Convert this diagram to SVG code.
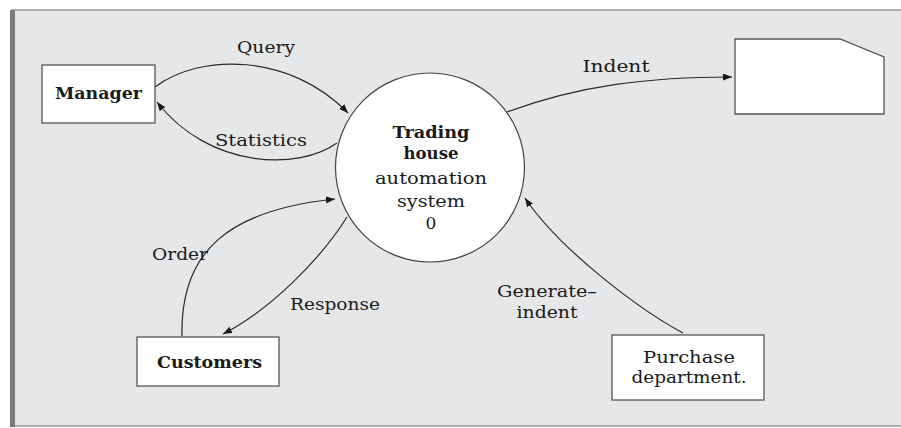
<svg xmlns="http://www.w3.org/2000/svg" width="901" height="428" viewBox="0 0 901 428">
<style>
.box{fill:#fff;stroke:#555;stroke-width:1.3}
.flow{fill:none;stroke:#2a2a2a;stroke-width:1.2;marker-end:url(#ah)}
text{font-family:"DejaVu Serif","Liberation Serif",serif;font-size:17px;fill:#1a1a1a;text-anchor:middle}
.b{font-weight:bold}
</style>
<defs>
<marker id="ah" markerUnits="userSpaceOnUse" markerWidth="10" markerHeight="8" refX="9" refY="3.5" orient="auto">
<path d="M0,0 L9,3.5 L0,7 z" fill="#1a1a1a"/>
</marker>
</defs>
<rect x="0" y="0" width="901" height="428" fill="#fff"/>
<rect x="12" y="10" width="895" height="416" fill="#e6e7e8" stroke="#9a9a9a" stroke-width="1.5"/>
<rect x="10" y="10" width="5" height="417" fill="#7a7a7a"/>
<g id="connectors">
<path class="flow" d="M155,87 C200,53 290,53 348,113"/>
<path class="flow" d="M337,143 C300,170 210,170 157,102"/>
<path class="flow" d="M507,112 C580,85 650,77 732,77"/>
<path class="flow" d="M182,336 C180,250 230,210 335,199"/>
<path class="flow" d="M347,217 C320,260 270,310 223,334"/>
<path class="flow" d="M683,333 C640,310 560,250 525,198"/>
<text x="266" y="53" textLength="58" lengthAdjust="spacingAndGlyphs">Query</text>
<text x="261" y="146" textLength="92" lengthAdjust="spacingAndGlyphs">Statistics</text>
<text x="616" y="72" textLength="67" lengthAdjust="spacingAndGlyphs">Indent</text>
<text x="180" y="260" textLength="56" lengthAdjust="spacingAndGlyphs">Order</text>
<text x="335" y="310" textLength="90" lengthAdjust="spacingAndGlyphs">Response</text>
<text x="547" y="297" textLength="100" lengthAdjust="spacingAndGlyphs">Generate–</text>
<text x="547" y="318" textLength="61" lengthAdjust="spacingAndGlyphs">indent</text>
</g>
<g id="manager">
<rect class="box" x="42" y="65" width="113" height="58"/>
<text class="b" x="98.5" y="99" textLength="87" lengthAdjust="spacingAndGlyphs">Manager</text>
</g>
<g id="process">
<circle cx="430" cy="167.5" r="94.5" fill="#fff" stroke="#444" stroke-width="1.2"/>
<text class="b" x="431" y="138" textLength="77" lengthAdjust="spacingAndGlyphs">Trading</text>
<text class="b" x="431" y="159" textLength="55" lengthAdjust="spacingAndGlyphs">house</text>
<text x="431" y="184" textLength="112" lengthAdjust="spacingAndGlyphs">automation</text>
<text x="431" y="207" textLength="68" lengthAdjust="spacingAndGlyphs">system</text>
<text x="431" y="229">0</text>
</g>
<g id="datastore">
<polygon class="box" points="735,39 840,39 884,57 884,114 735,114"/>
</g>
<g id="customers">
<rect class="box" x="137" y="337" width="142" height="49"/>
<text class="b" x="209.5" y="368" textLength="105" lengthAdjust="spacingAndGlyphs">Customers</text>
</g>
<g id="purchase">
<rect class="box" x="612" y="335" width="152" height="65"/>
<text x="689" y="363" textLength="92" lengthAdjust="spacingAndGlyphs">Purchase</text>
<text x="689" y="383" textLength="115" lengthAdjust="spacingAndGlyphs">department.</text>
</g>
</svg>
